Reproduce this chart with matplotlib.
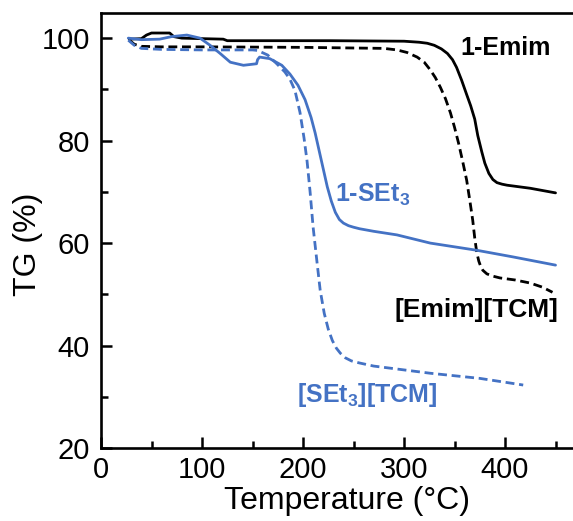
import matplotlib
matplotlib.use("Agg")
import matplotlib.pyplot as plt
from matplotlib.ticker import MultipleLocator

plt.rcParams['font.family'] = ['Liberation Sans', 'DejaVu Sans']
plt.rcParams['mathtext.fontset'] = 'custom'
plt.rcParams['mathtext.rm'] = 'Liberation Sans'
plt.rcParams['mathtext.bf'] = 'Liberation Sans:bold'
plt.rcParams['mathtext.it'] = 'Liberation Sans:italic'

# ---- data ----
emim_x = [28, 40, 45, 50, 68, 72, 80, 100, 121, 125, 200, 227, 300, 315, 323, 330, 337, 343, 348, 352, 357, 362, 366, 370, 373, 377, 380, 384, 388, 392, 397, 402, 425, 450]
emim_y = [99.8, 99.9, 100.6, 101.0, 101.0, 100.3, 100.0, 99.9, 99.8, 99.5, 99.5, 99.5, 99.4, 99.2, 99.0, 98.6, 97.9, 97.0, 95.8, 94.3, 91.8, 89.0, 86.8, 84.2, 81.0, 77.8, 75.6, 73.6, 72.4, 71.8, 71.5, 71.3, 70.7, 69.8]

emim_tcm_x = [28, 33, 40, 60, 100, 200, 280, 293, 303, 313, 320, 326, 331, 336, 341, 346, 350, 354, 358, 362, 365, 368, 370, 372, 374, 376, 378, 382, 387, 395, 410, 425, 437, 447]
emim_tcm_y = [99.6, 98.8, 98.4, 98.3, 98.3, 98.2, 98.0, 97.7, 97.2, 96.3, 95.3, 93.8, 92.3, 90.4, 88.2, 85.4, 82.6, 79.5, 76.0, 72.3, 68.5, 64.5, 61.0, 58.2, 56.5, 55.4, 54.7, 54.0, 53.6, 53.2, 52.8, 52.2, 51.4, 50.4]

set_x = [27, 40, 58, 70, 85, 98, 108, 118, 128, 141, 154, 155, 157, 167, 179, 187, 195, 202, 208, 212, 216, 220, 224, 228, 232, 236, 240, 245, 250, 256, 270, 293, 326, 372, 408, 450]
set_y = [100.0, 99.7, 99.8, 100.3, 100.6, 100.0, 98.6, 97.0, 95.3, 94.7, 95.0, 95.8, 96.3, 96.0, 94.7, 93.0, 90.8, 88.0, 84.5, 81.5, 78.0, 74.5, 71.0, 68.2, 66.0, 64.6, 63.9, 63.4, 63.1, 62.8, 62.3, 61.6, 60.0, 58.6, 57.3, 55.7]

set_tcm_x = [27, 33, 40, 60, 100, 150, 155, 165, 174, 182, 187, 192, 197, 201, 204, 207, 210, 214, 217, 221, 225, 229, 233, 237, 242, 248, 256, 270, 290, 326, 375, 418]
set_tcm_y = [99.6, 98.6, 98.0, 97.8, 97.7, 97.7, 97.6, 96.7, 95.0, 93.4, 92.0, 89.8, 85.5, 80.5, 76.0, 70.0, 63.1, 56.0, 50.8, 46.3, 43.2, 41.0, 39.5, 38.5, 37.6, 37.0, 36.6, 36.0, 35.5, 34.6, 33.6, 32.3]

x_ticks = [0, 100, 200, 300, 400]
y_ticks = [20, 40, 60, 80, 100]

BLUE = '#4472C4'
BLACK = '#000000'

fig = plt.figure(figsize=(5.73, 5.21), dpi=100)
ax = fig.add_axes([0.1763, 0.140, 0.8237, 0.835])

lw = 2.0
dash = (3.2, 1.7)
ax.plot(emim_x, emim_y, color=BLACK, lw=lw, solid_capstyle='round', solid_joinstyle='round')
ax.plot(emim_tcm_x, emim_tcm_y, color=BLACK, lw=lw, dashes=dash)
ax.plot(set_x, set_y, color=BLUE, lw=lw, solid_capstyle='round', solid_joinstyle='round')
ax.plot(set_tcm_x, set_tcm_y, color=BLUE, lw=lw, dashes=dash)

ax.set_xlim(0, 467.3)
ax.set_ylim(20, 104.9)
ax.set_xticks(x_ticks)
ax.set_yticks(y_ticks)
ax.xaxis.set_minor_locator(MultipleLocator(50))
ax.yaxis.set_minor_locator(MultipleLocator(10))
ax.tick_params(which='major', direction='in', length=8, width=1.8, labelsize=21, pad=6)
ax.tick_params(which='minor', direction='in', length=5, width=1.8)
ax.tick_params(axis='y', pad=8)

for s in ['left', 'bottom', 'top']:
    ax.spines[s].set_linewidth(1.9)
ax.spines['right'].set_visible(False)

ax.set_xlabel('Temperature (°C)', fontsize=23)
ax.xaxis.set_label_coords((347 - 101) / 472, -0.088)
ax.set_ylabel('TG (%)', fontsize=23)
ax.yaxis.set_label_coords(-0.123, (448 - 244) / 435)

ax.text(356, 98.0, '1-Emim', color=BLACK, fontsize=18, fontweight='bold', va='center', ha='left')
ax.text(232, 69.4, r'1-SEt$_{\mathbf{3}}$', color=BLUE, fontsize=18, fontweight='bold', va='center', ha='left')
ax.text(291, 47.0, '[Emim][TCM]', color=BLACK, fontsize=19, fontweight='bold', va='center', ha='left')
ax.text(194, 30.3, r'[SEt$_{\mathbf{3}}$][TCM]', color=BLUE, fontsize=18, fontweight='bold', va='center', ha='left')

fig.savefig('out.png', dpi=100)
